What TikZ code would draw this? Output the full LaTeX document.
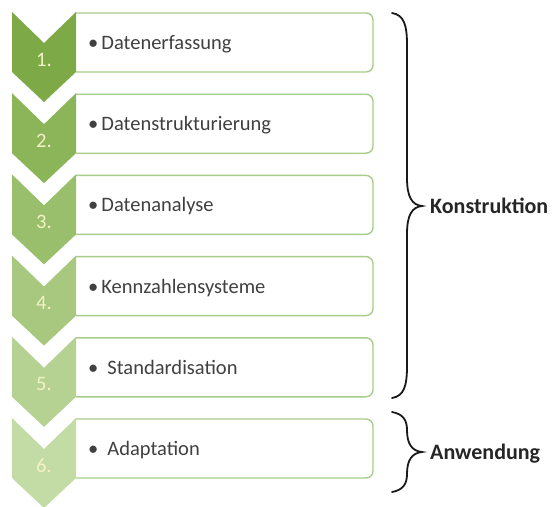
\documentclass[tikz,border=0pt]{standalone}
\usepackage{fontspec}
\setmainfont{Carlito}
\begin{document}
\begin{tikzpicture}[x=1pt,y=-1pt,
  itembox/.style={draw=boxgreen,line width=1.4pt,rounded corners=7pt},
  itemtext/.style={anchor=base west,inner sep=0pt,text=itemgray,font=\fontsize{20.5}{24}\selectfont},
  numtext/.style={anchor=base,inner sep=0pt,text=numcream,font=\fontsize{20.5}{24}\selectfont},
  grouptext/.style={anchor=base west,inner sep=0pt,text=labelblack,font=\fontsize{22}{26}\selectfont\bfseries},
  bracepath/.style={draw=black!90,line width=1.8pt,line cap=round}]
\definecolor{boxgreen}{RGB}{166,206,138}
\definecolor{itemgray}{RGB}{64,64,64}
\definecolor{numcream}{RGB}{242,242,196}
\definecolor{labelblack}{RGB}{38,38,38}
\definecolor{chA}{RGB}{125,170,70}
\definecolor{chB}{RGB}{139,181,88}
\definecolor{chC}{RGB}{153,191,108}
\definecolor{chD}{RGB}{167,200,126}
\definecolor{chE}{RGB}{181,210,146}
\definecolor{chF}{RGB}{195,220,166}
\useasboundingbox (0,0) rectangle (554,506);
\fill[white] (0,0) rectangle (554,506);
\foreach \i/\c/\t/\sp in {1/chA/Datenerfassung/3pt,2/chB/Datenstrukturierung/3pt,3/chC/Datenanalyse/3pt,4/chD/Kennzahlensysteme/3pt,5/chE/Standardisation/9pt,6/chF/Adaptation/9pt}{
  \pgfmathsetmacro{\T}{12+81.2*(\i-1)}
  \draw[itembox] (76,\T+1) -- (373,\T+1) -- (373,\T+60) -- (76,\T+60);
  \fill[\c] (12,\T) -- (44,\T+31) -- (76,\T) -- (76,\T+60) -- (44,\T+90) -- (12,\T+60) -- cycle;
  \node[numtext] (num\i) at (44,\T+54) {\i.};
  \node[itemtext] (item\i) at (88,\T+37.5) {•\hspace{\sp}\t};
}
\coordinate (kTop) at (392,13);
\coordinate (kTip) at (422,206);
\coordinate (kBot) at (392,398);
\draw[bracepath] (kTop) .. controls (404,15) and (407,25) .. (407,45) -- (407,178)
  .. controls (407,197) and (412,205) .. (kTip)
  .. controls (412,207) and (407,215) .. (407,234) -- (407,366)
  .. controls (407,386) and (404,396) .. (kBot);
\coordinate (aTop) at (392,412);
\coordinate (aTip) at (422,452);
\coordinate (aBot) at (392,492);
\draw[bracepath] (aTop) .. controls (403,414) and (407,420) .. (407,430)
  .. controls (407,444) and (412,451) .. (aTip)
  .. controls (412,453) and (407,460) .. (407,474)
  .. controls (407,484) and (403,490) .. (aBot);
\node[grouptext] (konst) at (430,213) {Konstruktion};
\node[grouptext] (anw) at (430,459) {Anwendung};
\end{tikzpicture}
\end{document}
